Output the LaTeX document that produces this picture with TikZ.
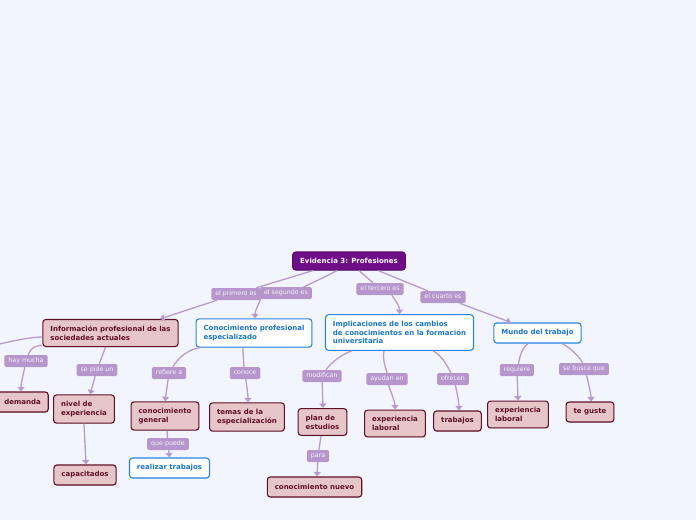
\documentclass[tikz,border=0pt]{standalone}
\usepackage{fontspec}
\setmainfont{DejaVu Sans}
\usetikzlibrary{arrows.meta,shadows}
\definecolor{bgcolor}{RGB}{243,245,254}
\definecolor{rootfill}{RGB}{112,14,138}
\definecolor{rootedge}{RGB}{90,10,112}
\definecolor{pinkfill}{RGB}{231,198,202}
\definecolor{pinkedge}{RGB}{96,16,36}
\definecolor{blueedge}{RGB}{40,135,228}
\definecolor{bluetext}{RGB}{26,116,214}
\definecolor{linkcolor}{RGB}{184,154,208}
\definecolor{lblfill}{RGB}{182,150,204}
\definecolor{lbltext}{RGB}{248,244,252}

\begin{document}
\begin{tikzpicture}[x=1pt,y=-1pt,
  box/.style={rounded corners=3pt,line width=1.1pt,align=left,
    inner xsep=7.5pt,inner ysep=6.3pt,minimum height=20pt,
    font=\fontsize{7}{8.8}\selectfont\bfseries,
    drop shadow={opacity=0.18,shadow xshift=0.6pt,shadow yshift=-0.9pt}},
  rootbox/.style={box,fill=rootfill,draw=rootedge,text=white,
    minimum height=18pt,inner ysep=5pt},
  pinkbox/.style={box,fill=pinkfill,draw=pinkedge,text=pinkedge},
  bluebox/.style={box,fill=white,draw=blueedge,text=bluetext},
  lbl/.style={fill=lblfill,text=lbltext,rounded corners=1.5pt,
    inner xsep=4pt,inner ysep=0pt,minimum height=12pt,
    text height=4.7pt,text depth=1.3pt,
    font=\fontsize{6.3}{7}\selectfont},
  link/.style={draw=linkcolor,line width=1.3pt},
  arr/.style={link,-{Triangle[width=7pt,length=4.5pt]}}]

  % --- canvas ---
  \fill[bgcolor] (0,0) rectangle (696,520);
  \useasboundingbox (0,0) rectangle (696,520);

  % --- topics ---
  \node[rootbox] (root) at (349,261) {Evidencia 3: Profesiones};

  \node[pinkbox] (info) at (110.5,333)
    {Información profesional de las\\sociedades actuales};
  \node[bluebox] (conoc) at (254,333)
    {Conocimiento profesional\\especializado};
  \node[bluebox] (implic) at (399.5,332.5)
    {Implicaciones de los cambios\\de conocimientos en la formación\\universitaria};
  \node[bluebox] (mundo) at (537.5,333) {Mundo del trabajo};

  % --- subtopics ---
  \node[pinkbox] (demanda) at (22.5,402) {demanda};
  \node[pinkbox] (nivel) at (84,409) {nivel de\\experiencia};
  \node[pinkbox] (capac) at (85,475) {capacitados};
  \node[pinkbox] (general) at (165,416) {conocimiento\\general};
  \node[bluebox] (realizar) at (169.5,468) {realizar trabajos};
  \node[pinkbox] (temas) at (247,417) {temas de la\\especialización};
  \node[pinkbox] (plan) at (322.5,422) {plan de\\estudios};
  \node[pinkbox] (nuevo) at (314.5,487) {conocimiento nuevo};
  \node[pinkbox] (explab) at (395,423.5) {experiencia\\laboral};
  \node[pinkbox] (trabajos) at (457.5,421) {trabajos};
  \node[pinkbox] (explabb) at (518,414.5) {experiencia\\laboral};
  \node[pinkbox] (guste) at (590,412) {te guste};

  % --- connector labels ---
  \node[lbl] (lprimero) at (236,294) {el primero es};
  \node[lbl] (lsegundo) at (286,293) {el segundo es};
  \node[lbl] (ltercero) at (380,289) {el tercero es};
  \node[lbl] (lcuarto) at (443,297) {el cuarto es};
  \node[lbl] (lhay) at (26,361) {hay mucha};
  \node[lbl] (lsepide) at (97,370) {se pide un};
  \node[lbl] (lrefiere) at (169,373) {refiere a};
  \node[lbl] (lconoce) at (245,373) {conoce};
  \node[lbl] (lquepuede) at (168,444) {que puede};
  \node[lbl] (lmodifican) at (322,376) {modifican};
  \node[lbl] (layudan) at (387,379) {ayudan en};
  \node[lbl] (lofrecen) at (453,379) {ofrecen};
  \node[lbl] (lpara) at (318,456) {para};
  \node[lbl] (lrequiere) at (517,370) {requiere};
  \node[lbl] (lsebusca) at (584,369) {se busca que};

  \coordinate (offleft) at (-30,352);

  % --- root links ---
  \draw[link] ([xshift=-36pt]root.south) -- (lprimero);
  \draw[arr] (lprimero) -- ([xshift=49.5pt]info.north);
  \draw[link] ([xshift=-12pt]root.south)
    .. controls +(-15,8) and +(15,-5) .. (lsegundo);
  \draw[arr] (lsegundo)
    .. controls +(-22,3) and +(0,-10) .. ([xshift=1pt]conoc.north);
  \draw[link] ([xshift=10pt]root.south) -- (ltercero);
  \draw[arr] (ltercero)
    .. controls +(10,5) and +(0,-10) .. (implic.north);
  \draw[link] ([xshift=29pt]root.south) -- (lcuarto);
  \draw[arr] (lcuarto) -- ([xshift=-26.5pt]mundo.north);

  % --- Información ---
  \draw[link] ([yshift=-4pt]info.west)
    .. controls +(-20,0) and +(10,-3) .. (offleft);
  \draw[link] ([yshift=2pt]info.south west)
    .. controls +(-12,1) and +(3,-8) .. (lhay);
  \draw[arr] (lhay)
    .. controls +(-2,10) and +(0,-8) .. ([xshift=-1.5pt]demanda.north);
  \draw[link] ([xshift=-5pt]info.south) -- (lsepide);
  \draw[arr] (lsepide) -- ([xshift=6pt]nivel.north);
  \draw[arr] (nivel.south) -- ([xshift=1pt]capac.north);

  % --- Conocimiento ---
  \draw[link] ([xshift=-54pt]conoc.south)
    .. controls +(-18,3) and +(5,-8) .. (lrefiere);
  \draw[arr] (lrefiere) -- (general.north);
  \draw[link] ([xshift=-11pt]conoc.south)
    .. controls +(0,8) and +(-1,-6) .. (lconoce);
  \draw[arr] (lconoce)
    .. controls +(1,8) and +(0,-8) .. ([xshift=1pt]temas.north);
  \draw[link] ([xshift=2pt]general.south) -- (lquepuede);
  \draw[arr] (lquepuede) -- (realizar.north);

  % --- Implicaciones ---
  \draw[link] ([xshift=-47.5pt]implic.south)
    .. controls +(-15,5) and +(5,-8) .. (lmodifican);
  \draw[arr] (lmodifican) -- ([xshift=0.5pt]plan.north);
  \draw[link] ([xshift=-15.5pt]implic.south)
    .. controls +(-2,10) and +(0,-8) .. (layudan);
  \draw[arr] (layudan)
    .. controls +(2,8) and +(0,-8) .. (explab.north);
  \draw[link] ([xshift=33.5pt]implic.south)
    .. controls +(10,5) and +(-3,-8) .. (lofrecen);
  \draw[arr] (lofrecen)
    .. controls +(3,8) and +(0,-8) .. ([xshift=1.5pt]trabajos.north);
  \draw[link] ([xshift=-1.5pt]plan.south) -- (lpara);
  \draw[arr] (lpara) -- ([xshift=2.5pt]nuevo.north);

  % --- Mundo del trabajo ---
  \draw[link] ([xshift=-9.5pt]mundo.south)
    .. controls +(-8,6) and +(2,-8) .. (lrequiere);
  \draw[arr] (lrequiere) -- (explabb.north);
  \draw[link] ([xshift=24.5pt]mundo.south)
    .. controls +(12,6) and +(-2,-8) .. (lsebusca);
  \draw[arr] (lsebusca)
    .. controls +(3,8) and +(0,-8) .. ([xshift=1pt]guste.north);

\end{tikzpicture}
\end{document}
